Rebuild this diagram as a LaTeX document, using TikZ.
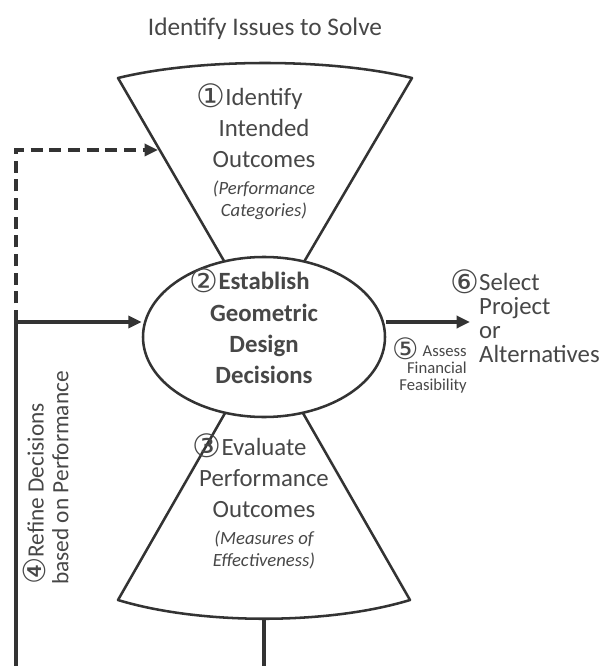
\documentclass[tikz,border=0pt]{standalone}
\usepackage{fontspec}
\setmainfont{Carlito}
\newfontfamily\symfont[Scale=1.3]{DejaVu Sans}
\usepackage{tikz}
\usetikzlibrary{arrows.meta, positioning, calc, shapes.geometric}
\definecolor{ink}{HTML}{333333}
\definecolor{txtgray}{HTML}{474747}
\newcommand{\stepno}[1]{\raisebox{-0.1em}{\symfont\mdseries #1}}

\begin{document}
\begin{tikzpicture}[
        x=0.75pt, y=-0.75pt,
        fan/.style={draw=ink, line width=1.9pt, line join=round},
        hub/.style={ellipse, draw=ink, line width=1.9pt, fill=white, minimum width=181.5pt, minimum height=120pt, inner sep=0pt},
        txt/.style={align=center, text=txtgray, font=\fontsize{18.6}{23.5}\selectfont, inner sep=0pt},
        note/.style={align=center, text=txtgray, font=\fontsize{14}{16.5}\selectfont\itshape, inner sep=0pt},
        arrow/.style={-{Triangle[length=10pt, width=9pt]}, draw=ink, line width=2.8pt},
        link/.style={draw=ink, line width=2.8pt},
    ]
        \useasboundingbox (0,0) rectangle (600,666);

        % the two fans
        \draw[fan] (118,78) .. controls (200,58) and (330,58) .. (412,78) -- (264,330) -- cycle;
        \draw[fan] (264,345) -- (118,600) .. controls (200,625) and (328,625) .. (410,600) -- cycle;
        \node[hub] (hub) at (264,337) {};

        \node[txt, font=\fontsize{19}{23}\selectfont] (title) at (265,29) {Identify Issues to Solve};
        \node[txt] (intended) at (264,126) {\llap{\stepno{①}}Identify\\Intended\\Outcomes};
        \node[note, below=9pt of intended] (categories) {(Performance\\Categories)};
        \node[txt, font=\fontsize{18.6}{23.3}\selectfont\bfseries] (establish) at (264,326) {\llap{\stepno{②}}Establish\\Geometric\\Design\\Decisions};
        \node[txt] (evaluate) at (264,476) {\llap{\stepno{③}}Evaluate\\Performance\\Outcomes};
        \node[note, below=9pt of evaluate] (measures) {(Measures of\\Effectiveness)};
        \node[txt, rotate=90, align=left, anchor=west, font=\fontsize{17.5}{18.5}\selectfont] (refine) at (46,585) {\stepno{④}Refine Decisions\\based on Performance};
        \node[txt, align=right, anchor=east, font=\fontsize{12.5}{12.5}\selectfont] (assess) at (467,365) {{\fontsize{17}{12.5}\selectfont\stepno{⑤}} Assess\\Financial\\Feasibility};
        \node[txt, align=left, anchor=west, font=\fontsize{18.6}{18}\selectfont] (select) at (450,316) {\stepno{⑥}Select\\\hphantom{\stepno{⑥}}Project\\\hphantom{\stepno{⑥}}or\\\hphantom{\stepno{⑥}}Alternatives};

        % loop and exit
        \coordinate (corner) at (16,150);
        \coordinate (split) at (16,322);
        \coordinate (leftend) at (16,666);
        \coordinate (fantip) at (158,150);
        \coordinate (fanbase) at (264,619);
        \coordinate (baseend) at (264,666);
        \coordinate (exit) at (470,322);

        \draw[arrow] (leftend) -- (split) -- (split -| hub.west);
        \draw[arrow, dash pattern=on 9pt off 5pt] (split) -- (corner) -- (fantip);
        \draw[arrow] (split -| hub.east) -- (exit);
        \draw[link] (fanbase) -- (baseend);
    \end{tikzpicture}
\end{document}
